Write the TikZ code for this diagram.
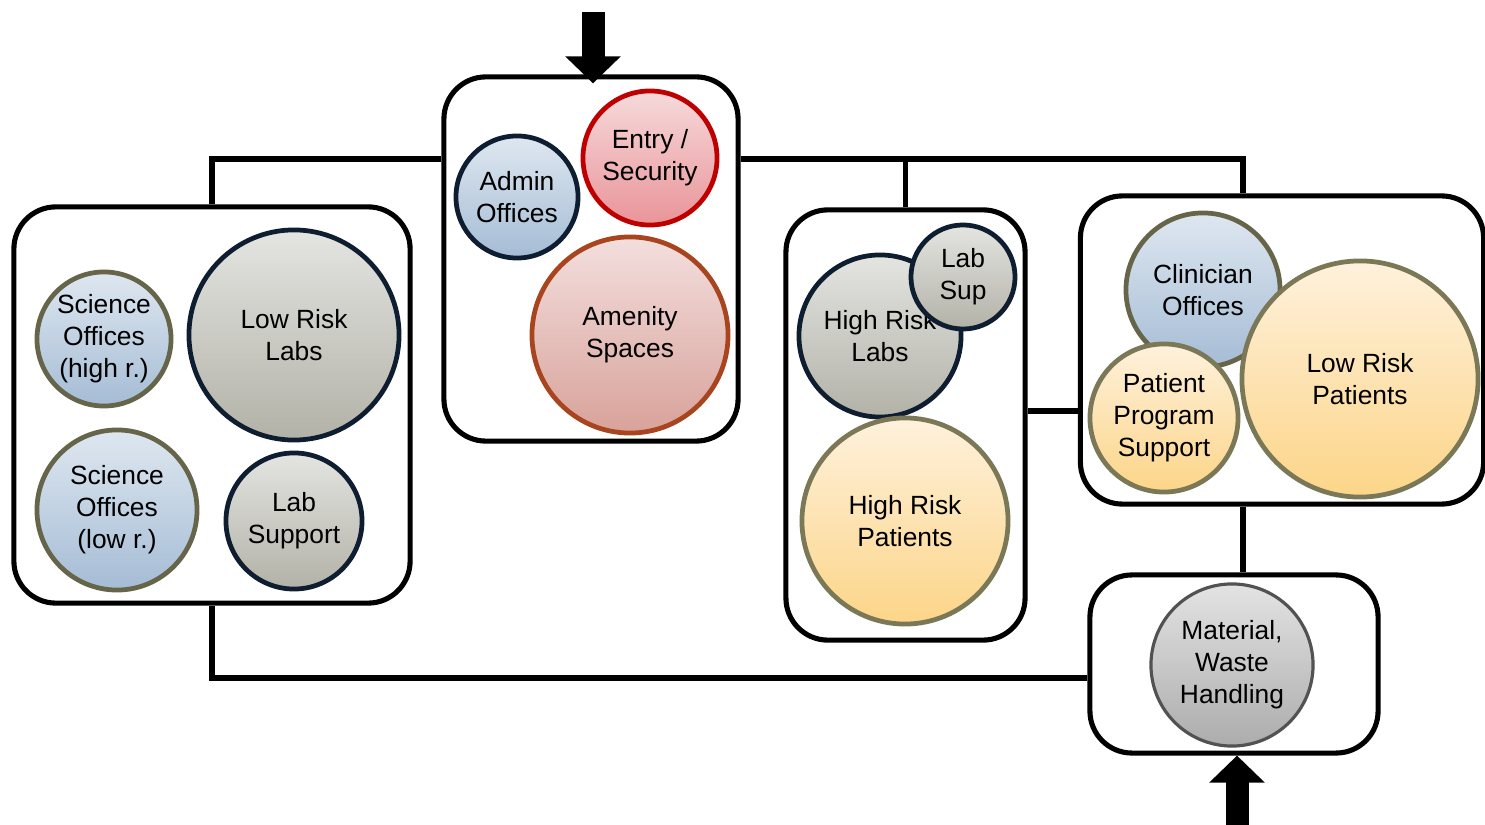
\documentclass[tikz,border=0pt]{standalone}
\usepackage{fontspec}
\setmainfont{Liberation Sans}
\usetikzlibrary{positioning}
\usetikzlibrary{arrows.meta}
\usetikzlibrary{calc}

\definecolor{navy}{HTML}{0E1E30}
\definecolor{olivegray}{HTML}{66654A}
\definecolor{sandgray}{HTML}{7A7856}
\definecolor{blueTop}{HTML}{DEE7F0}
\definecolor{blueBot}{HTML}{A5BCD5}
\definecolor{grayTop}{HTML}{E4E4E1}
\definecolor{grayBot}{HTML}{B2B2A8}
\definecolor{sunTop}{HTML}{FEF1DC}
\definecolor{sunBot}{HTML}{FCD588}

\begin{document}
\begin{tikzpicture}[x=0.01cm, y=-0.01cm,
    zone/.style={draw, line width=1.45pt, rounded corners=0.42cm, fill=white},
    room/.style={circle, line width=1.35pt, align=center, inner sep=0pt,
                 font=\fontsize{7.5}{9.1}\selectfont},
    office/.style={room, draw=olivegray, top color=blueTop, bottom color=blueBot},
    lab/.style={room, draw=navy, top color=grayTop, bottom color=grayBot},
    patient/.style={room, draw=sandgray, top color=sunTop, bottom color=sunBot},
    link/.style={line width=1.45pt},
    flow/.style={line width=0.23cm, -{Triangle[length=0.27cm, width=0.54cm]}}]
  \useasboundingbox (0,0) rectangle (1485,825);

  % zones
  \node[zone, minimum width=3.96cm, minimum height=3.96cm] (sci) at (212,405) {};
  \node[zone, minimum width=2.94cm, minimum height=3.64cm] (adm) at (591,259) {};
  \node[zone, minimum width=2.39cm, minimum height=4.30cm] (hr) at (905.5,425) {};
  \node[zone, minimum width=4.03cm, minimum height=3.08cm] (pat) at (1282,350) {};
  \node[zone, minimum width=2.88cm, minimum height=1.78cm] (mat) at (1234,664) {};

  % corridors
  \coordinate (bus) at (0,159);
  \coordinate (jr) at (1243,159);
  \draw[link] (sci.north) |- (adm.west |- bus);
  \draw[link] (adm.east |- bus) -- (jr) -- (jr |- pat.north);
  \draw[link] (hr.north |- bus) -- (hr.north);
  \draw[link] ([yshift=0.14cm]hr.east) -- ([yshift=0.14cm]hr.east -| pat.west);
  \draw[link] (jr |- pat.south) -- (jr |- mat.north);
  \draw[link] (sci.south) |- ([yshift=-0.14cm]mat.west);

  % science zone
  \node[office, minimum size=1.34cm] (soh) at (104,339) {Science\\Offices\\(high r.)};
  \node[lab, minimum size=2.10cm] (lrl) at (294,335) {Low Risk\\Labs};
  \node[office, minimum size=1.60cm] (sol) at (117,510) {Science\\Offices\\(low r.)};
  \node[lab, minimum size=1.36cm] (ls) at (294,521) {Lab\\Support};

  % entry zone
  \node[room, draw=navy, top color=blueTop, bottom color=blueBot,
        minimum size=1.22cm] (ao) at (517,197) {Admin\\Offices};
  \node[room, draw=red!75!black, top color={rgb,255:red,246;green,218;blue,219}, bottom color={rgb,255:red,233;green,148;blue,153},
        minimum size=1.34cm] (es) at (650,158) {Entry /\\Security};
  \node[room, draw={rgb,255:red,168;green,68;blue,30}, top color={rgb,255:red,243;green,223;blue,222}, bottom color={rgb,255:red,216;green,162;blue,154},
        minimum size=1.96cm] (as) at (630,335) {Amenity\\Spaces};

  % clinical zone
  \node[lab, minimum size=1.62cm] (hrl) at (880,336) {High Risk\\Labs};
  \node[lab, minimum size=1.04cm] (lsup) at (963,277) {Lab\\Sup};
  \node[patient, minimum size=2.06cm] (hrp) at (905,521) {High Risk\\Patients};

  % patient zone
  \node[office, minimum size=1.54cm] (co) at (1203,290) {Clinician\\Offices};
  \node[patient, minimum size=1.48cm] (pps) at (1164,418) {Patient\\Program\\Support};
  \node[patient, minimum size=2.36cm] (lrp) at (1360,379) {Low Risk\\Patients};

  % service zone
  \node[room, draw=black!68, line width=0.9pt, top color=gray!22!white, bottom color=gray!65!white,
        minimum size=1.62cm] (mw) at (1232,665) {Material,\\Waste\\Handling};

  % entrances
  \coordinate (inA) at (593,12);
  \coordinate (inB) at (1237,825);
  \draw[flow] (inA) -- ([yshift=-0.09cm]inA |- adm.north);
  \draw[flow] (inB) -- (inB |- mat.south);
\end{tikzpicture}
\end{document}
